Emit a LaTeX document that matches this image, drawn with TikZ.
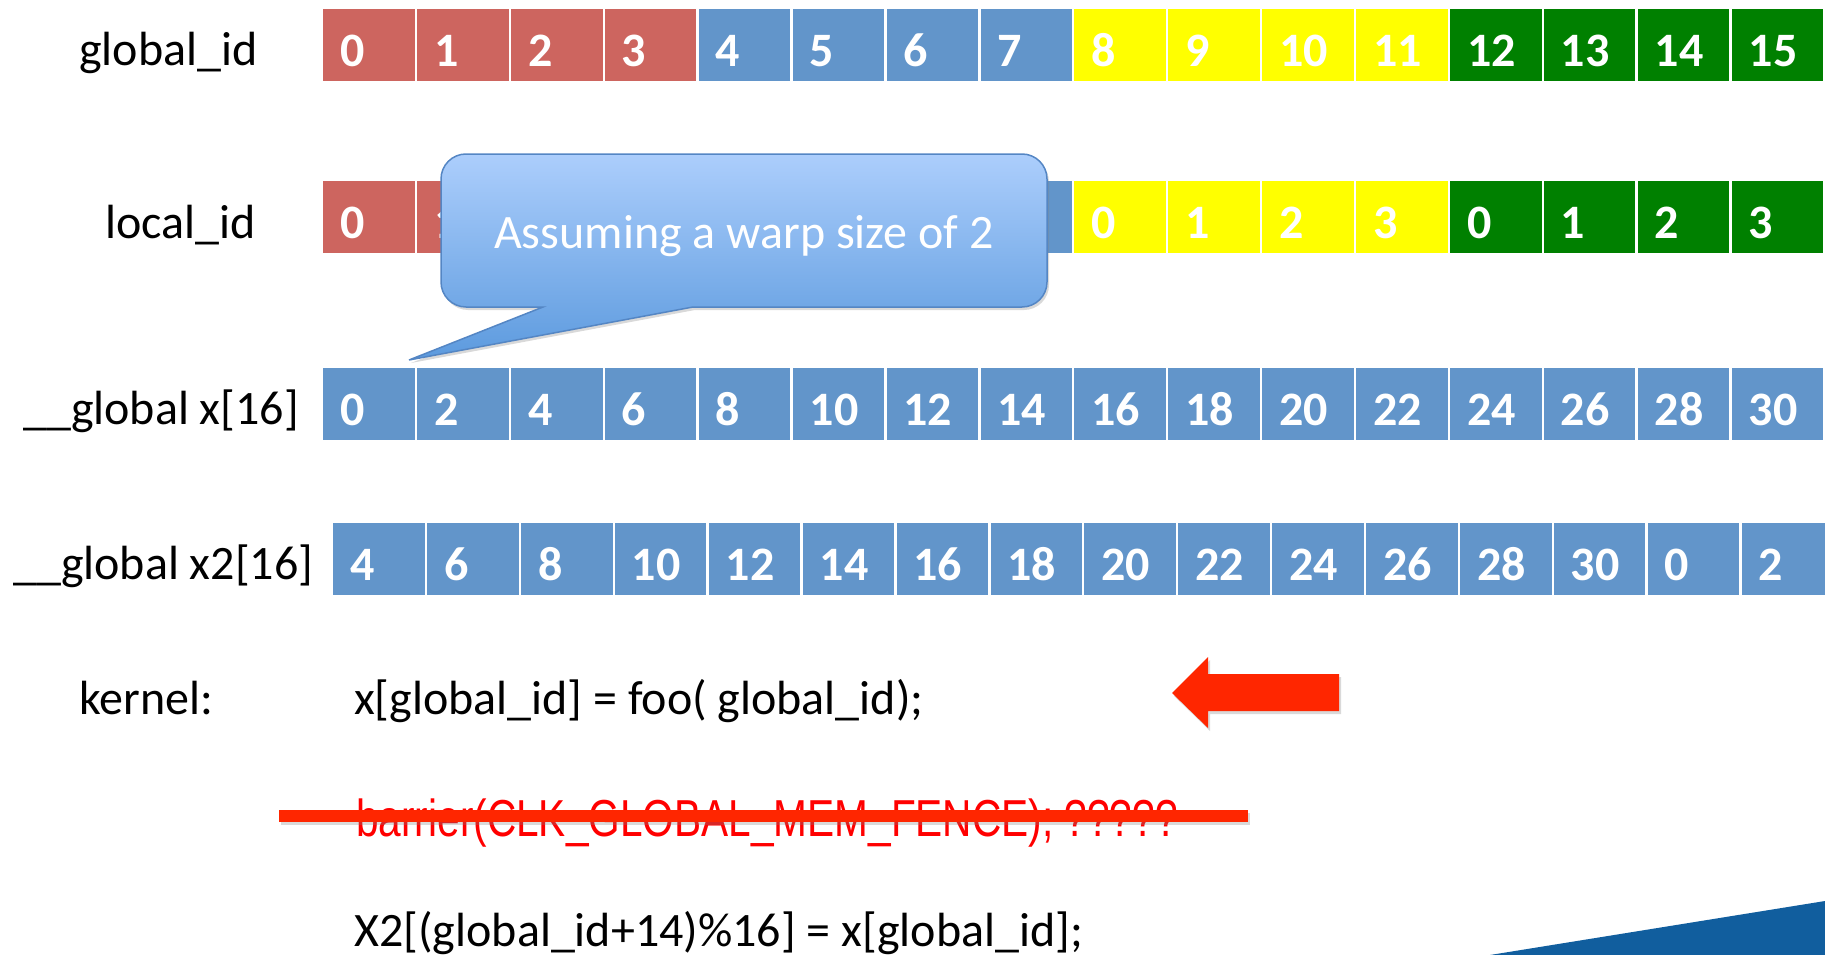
\documentclass[tikz,border=0pt]{standalone}
\usepackage{fontspec}
\setmainfont{Carlito}
\newfontfamily\arialfont{Liberation Sans}
\usetikzlibrary{shadows}

\definecolor{cellred}{RGB}{205,101,95}
\definecolor{cellblue}{RGB}{98,149,202}
\definecolor{cellyellow}{RGB}{255,255,0}
\definecolor{cellgreen}{RGB}{0,128,0}
\definecolor{arrowred}{RGB}{255,38,0}
\definecolor{codered}{RGB}{255,0,0}
\definecolor{slideblue}{RGB}{17,94,158}
\definecolor{calloutlight}{RGB}{172,206,252}
\definecolor{calloutdark}{RGB}{92,154,222}
\definecolor{calloutedge}{RGB}{84,134,196}
\colorlet{grp0}{cellred}
\colorlet{grp1}{cellblue}
\colorlet{grp2}{cellyellow}
\colorlet{grp3}{cellgreen}

\begin{document}
\begin{tikzpicture}[x=1pt,y=-1pt,
  cell/.style={draw=none, inner sep=0pt, minimum width=91.5pt,
    minimum height=72pt, anchor=north west},
  num/.style={anchor=base west, inner sep=0pt, text=white,
    font=\fontsize{48}{58}\selectfont\bfseries},
  plain/.style={anchor=base west, inner sep=0pt,
    font=\fontsize{48}{58}\selectfont},
  softshadow/.style={drop shadow={opacity=0.3, shadow xshift=2pt,
    shadow yshift=-3pt}}]
\useasboundingbox (0,0) rectangle (1825,955);
\clip (0,0) rectangle (1825,955);

% row labels
\node[plain] (lblgid) at (79,66) {global\_id};
\node[plain] (lbllid) at (105,238) {local\_id};
\node[plain] (lblx) at (23,424) {\_\_global x[16]};
\node[plain] (lblxb) at (13,579) {\_\_global x2[16]};

% the four rows of sixteen cells
\foreach \i in {0,...,15} {
  \pgfmathtruncatemacro\grp{div(\i,4)}
  \pgfmathtruncatemacro\loc{mod(\i,4)}
  \pgfmathtruncatemacro\dbl{2*\i}
  \pgfmathtruncatemacro\rot{2*mod(\i+2,16)}
  \pgfmathsetmacro\xa{323+93.9*\i}
  \pgfmathsetmacro\xb{333+93.9*\i}
  \node[cell, fill=grp\grp] (gid\i) at (\xa,9) {};
  \node[num] at ([shift={(17,-15)}]gid\i.south west) {\i};
  \node[cell, fill=grp\grp] (lid\i) at (\xa,181) {};
  \node[cell, fill=cellblue] (xa\i) at (\xa,368) {};
  \node[num] at ([shift={(17,-15)}]xa\i.south west) {\dbl};
  \node[cell, fill=cellblue] (xb\i) at (\xb,523) {};
  \node[num] at ([shift={(17,-15)}]xb\i.south west) {\rot};
}
% local ids left uncovered by the bubble
\foreach \i in {0,1,8,9,10,11,12,13,14,15} {
  \pgfmathtruncatemacro\loc{mod(\i,4)}
  \node[num] at ([shift={(17,-15)}]lid\i.south west) {\loc};
}

% callout bubble with its pointer
\path[top color=calloutlight, bottom color=calloutdark, draw=calloutedge,
      line width=1.5pt, softshadow]
  (466,154) -- (1022,154) arc[start angle=270, end angle=360, radius=25]
  -- (1047,282) arc[start angle=0, end angle=90, radius=25]
  -- (693,307) -- (409,360) -- (543,307)
  -- (466,307) arc[start angle=90, end angle=180, radius=25]
  -- (441,179) arc[start angle=180, end angle=270, radius=25] -- cycle;
\node[plain, text=white] (callout) at (494,248) {Assuming a warp size of 2};

% kernel code
\node[plain] (kernel) at (79,714) {kernel:};
\node[plain] (lineone) at (354,714) {x[global\_id] = foo( global\_id);};
\node[anchor=base west, inner sep=0pt, text=codered] (barrier) at (356,836)
  {\arialfont\fontsize{52}{60}\selectfont\scalebox{0.781}[1]{barrier(CLK\_GLOBAL\_MEM\_FENCE); ?????}};
\node[plain] (linethree) at (354,946) {X2[(global\_id+14)\%16] = x[global\_id];};

% strike-out bar over the barrier line
\fill[arrowred, softshadow] (279,810) rectangle (1248,822);

% red arrow pointing at the first code line
\fill[arrowred, softshadow] (1172,693) -- (1208,657) -- (1208,674) -- (1339,674)
  -- (1339,711) -- (1208,711) -- (1208,728) -- cycle;

% corner band
\fill[slideblue] (1490,955) -- (1825,901) -- (1825,955) -- cycle;
\end{tikzpicture}
\end{document}
